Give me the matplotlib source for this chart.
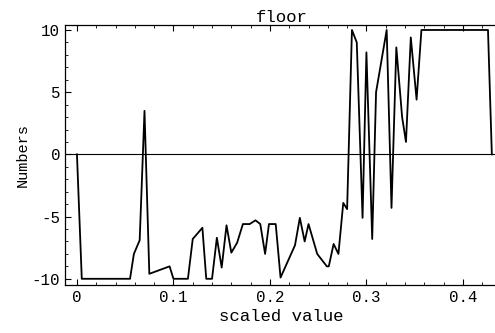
import numpy as np
import matplotlib.pyplot as plt
from matplotlib.ticker import MultipleLocator


# values
scaled_value = [0.000, 0.005, 0.055, 0.059, 0.065, 0.070, 0.075, 0.096, 0.100,
                0.115, 0.120, 0.130, 0.134, 0.140, 0.145, 0.150, 0.155, 0.160,
                0.166, 0.172, 0.179, 0.185, 0.190, 0.195, 0.199, 0.206, 0.211,
                0.226, 0.231, 0.236, 0.240, 0.249, 0.259, 0.261, 0.266, 0.271,
                0.276, 0.280, 0.285, 0.290, 0.296, 0.300, 0.306, 0.310, 0.321,
                0.326, 0.331, 0.337, 0.341, 0.346, 0.352, 0.357, 0.426, 0.430]
numbers = [0.0, -10.0, -10.0, -8.0, -6.9, 3.5, -9.6, -9.0, -10.0,
           -10.0, -6.8, -5.9, -10.0, -10.0, -6.7, -9.1, -5.7, -7.9,
           -7.1, -5.6, -5.6, -5.3, -5.6, -8.0, -5.6, -5.6, -9.9,
           -7.3, -5.1, -7.0, -5.6, -8.0, -9.0, -9.0, -7.2, -8.0,
           -3.9, -4.4, 10.0, 9.0, -5.1, 8.2, -6.8, 5.0, 10.0,
           -4.3, 8.6, 3.0, 1.0, 9.4, 4.4, 10.0, 10.0, 0.0]

x_ticks = [0, 0.1, 0.2, 0.3, 0.4]
x_tick_labels = ["0", "0.1", "0.2", "0.3", "0.4"]
y_ticks = [-10, -5, 0, 5, 10]
y_tick_labels = ["-10", "-5", "0", "5", "10"]

plt.rcParams['font.family'] = ['Liberation Mono', 'DejaVu Sans Mono']

fig = plt.figure(figsize=(4.95, 3.33), dpi=100)
ax = fig.add_axes([0.1313, 0.1441, 0.875, 0.7808])

ax.axhline(0, color='black', lw=0.8)
ax.plot(scaled_value, numbers, color='black', lw=1.3)

ax.set_xlim(-0.0124, 0.4365)
ax.set_ylim(-10.5, 10.4)

ax.set_xticks(x_ticks)
ax.set_xticklabels(x_tick_labels)
ax.set_yticks(y_ticks)
ax.set_yticklabels(y_tick_labels)
ax.xaxis.set_minor_locator(MultipleLocator(0.02))
ax.yaxis.set_minor_locator(MultipleLocator(1))
ax.tick_params(which='both', direction='in', top=True, right=False,
               labelsize=11.3, pad=3.5)
ax.tick_params(which='major', length=4, width=0.8)
ax.tick_params(which='minor', length=2, width=0.6)

ax.set_xlabel("scaled value", fontsize=12.5, labelpad=3)
ax.set_ylabel("Numbers", fontsize=11, labelpad=1)
ax.set_title("floor", fontsize=12.5, pad=2)

for side in ['left', 'bottom', 'top']:
    ax.spines[side].set_linewidth(0.9)
ax.spines['right'].set_visible(False)

fig.savefig("out.png", dpi=100)
